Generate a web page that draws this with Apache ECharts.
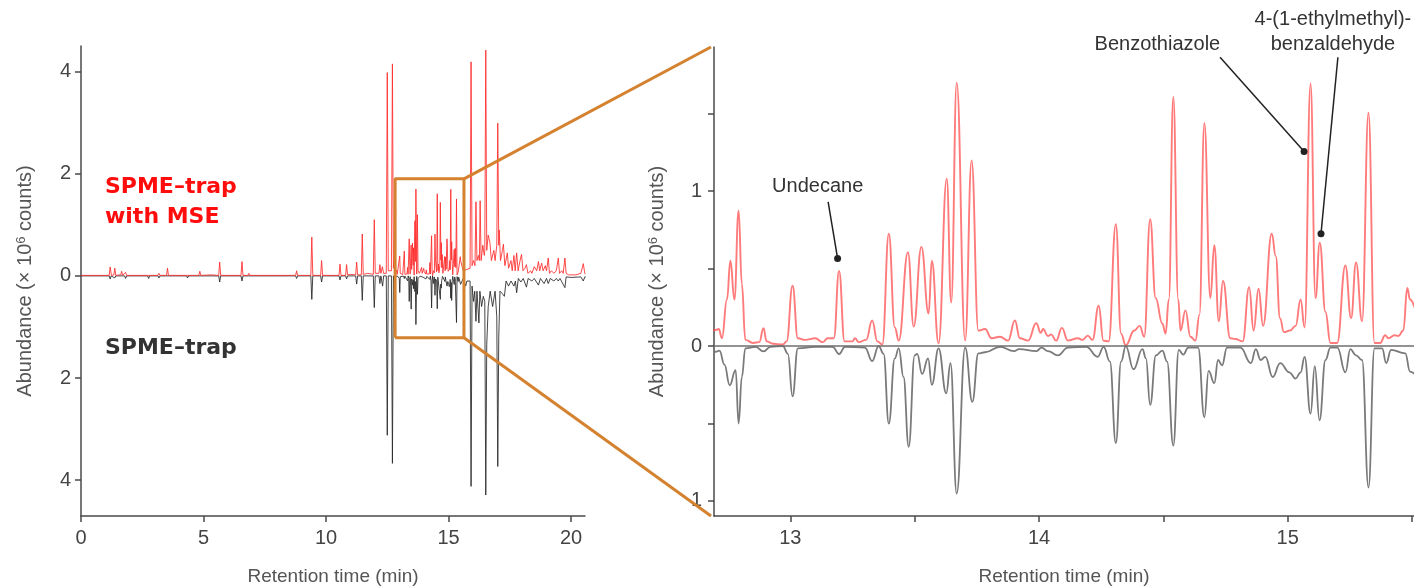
<!DOCTYPE html>
<html>
<head>
<meta charset="utf-8">
<script src="https://cdn.jsdelivr.net/npm/echarts@6/dist/echarts.min.js"></script>
<style>
html,body{margin:0;padding:0;background:#fff;}
#chart{width:1414px;height:586px;}
</style>
</head>
<body>
<div id="chart"></div>
<script>
// ---------- DATA (time in min, abundance in 10^6 counts) ----------
// Zoomed region (right panel), SPME-trap with MSE (positive)
const zoomRed = [
[12.69,0.10],[12.703,0.105],[12.712,0.11],[12.725,0.05],[12.745,0.30],[12.759,0.55],[12.775,0.30],[12.792,0.875],[12.805,0.40],[12.819,0.04],
[12.85,0.02],[12.875,0.025],[12.892,0.115],[12.905,0.03],[12.93,0.015],[12.97,0.01],[12.985,0.03],[13.009,0.39],[13.03,0.05],[13.06,0.04],
[13.1,0.05],[13.13,0.025],[13.15,0.05],[13.175,0.05],[13.196,0.485],[13.218,0.03],[13.25,0.03],[13.26,0.05],[13.275,0.025],[13.305,0.04],
[13.329,0.165],[13.35,0.03],[13.37,0.01],[13.396,0.725],[13.42,0.12],[13.436,0.035],[13.473,0.605],[13.496,0.125],[13.527,0.64],[13.556,0.21],
[13.569,0.55],[13.596,0.017],[13.629,1.08],[13.647,0.28],[13.669,1.70],[13.703,0.035],[13.729,1.197],[13.756,0.10],[13.783,0.11],[13.809,0.05],
[13.843,0.06],[13.876,0.035],[13.903,0.165],[13.923,0.05],[13.956,0.035],[13.989,0.147],[14.007,0.085],[14.016,0.11],[14.036,0.065],[14.049,0.075],
[14.069,0.035],[14.092,0.117],[14.116,0.035],[14.156,0.05],[14.175,0.04],[14.196,0.067],[14.215,0.04],[14.24,0.26],[14.259,0.035],[14.28,0.03],
[14.309,0.786],[14.33,0.08],[14.349,0.005],[14.383,0.10],[14.405,0.13],[14.423,0.06],[14.447,0.818],[14.469,0.31],[14.496,0.145],[14.509,0.08],
[14.522,0.30],[14.54,1.608],[14.56,0.30],[14.569,0.10],[14.589,0.23],[14.609,0.06],[14.629,0.035],[14.645,0.20],[14.665,1.44],[14.689,0.31],
[14.705,0.65],[14.723,0.16],[14.74,0.42],[14.769,0.05],[14.79,0.045],[14.819,0.03],[14.845,0.38],[14.863,0.10],[14.883,0.37],[14.901,0.13],
[14.936,0.725],[14.952,0.58],[14.969,0.18],[14.985,0.09],[15.009,0.10],[15.032,0.13],[15.052,0.30],[15.068,0.12],[15.092,1.695],[15.112,0.31],
[15.129,0.667],[15.152,0.22],[15.172,0.02],[15.199,0.02],[15.232,0.52],[15.255,0.18],[15.275,0.54],[15.299,0.16],[15.325,1.506],[15.349,0.02],
[15.372,0.02],[15.392,0.07],[15.405,0.05],[15.43,0.07],[15.445,0.065],[15.465,0.10],[15.481,0.375],[15.492,0.30],[15.51,0.25]
];
// Zoomed region (right panel), SPME-trap (negative)
const zoomGray = [
[12.69,-0.035],[12.70,-0.037],[12.715,-0.03],[12.735,-0.12],[12.756,-0.253],[12.78,-0.156],[12.792,-0.50],[12.805,-0.20],[12.819,-0.015],[12.86,-0.005],
[12.892,-0.035],[12.92,-0.005],[12.97,0],[12.99,-0.05],[13.009,-0.325],[13.03,-0.015],[13.10,-0.005],[13.17,-0.005],[13.196,-0.052],[13.22,-0.005],
[13.30,-0.01],[13.329,-0.097],[13.355,0],[13.375,-0.05],[13.396,-0.50],[13.42,-0.08],[13.436,-0.015],[13.455,-0.20],[13.476,-0.65],[13.50,-0.06],
[13.51,-0.05],[13.53,-0.18],[13.554,-0.08],[13.569,-0.25],[13.596,-0.015],[13.627,-0.306],[13.644,-0.11],[13.669,-0.952],[13.703,-0.01],[13.732,-0.36],
[13.756,-0.047],[13.783,-0.04],[13.843,-0.005],[13.90,-0.033],[13.92,-0.02],[13.99,-0.033],[14.01,-0.01],[14.036,-0.033],[14.076,-0.06],[14.116,-0.01],
[14.19,-0.005],[14.236,-0.07],[14.26,-0.005],[14.285,-0.10],[14.309,-0.627],[14.33,-0.10],[14.349,0],[14.38,-0.15],[14.416,-0.02],[14.43,-0.08],
[14.447,-0.38],[14.47,-0.06],[14.496,-0.03],[14.515,-0.10],[14.54,-0.643],[14.562,-0.025],[14.58,-0.055],[14.60,-0.01],[14.64,-0.01],[14.665,-0.46],
[14.682,-0.16],[14.705,-0.24],[14.72,-0.09],[14.736,-0.125],[14.756,-0.01],[14.81,-0.01],[14.852,-0.11],[14.872,-0.02],[14.891,-0.09],[14.91,-0.07],
[14.94,-0.20],[14.97,-0.11],[15.007,-0.17],[15.032,-0.21],[15.052,-0.17],[15.068,-0.07],[15.092,-0.437],[15.109,-0.13],[15.128,-0.48],[15.152,-0.09],
[15.172,-0.01],[15.20,-0.01],[15.232,-0.17],[15.252,-0.02],[15.275,-0.06],[15.299,-0.09],[15.325,-0.913],[15.349,-0.015],[15.38,-0.015],[15.396,-0.11],
[15.416,-0.025],[15.473,-0.047],[15.492,-0.165],[15.51,-0.18]
];
// Full run (left panel), before the zoomed window
const leftRedPre = [
[0,0.01],[1.15,0.01],[1.19,0.175],[1.24,0.01],[1.34,0.02],[1.38,0.15],[1.42,0.01],[1.62,0.02],[1.66,0.09],[1.70,0.01],[1.78,0.01],[1.82,0.07],[1.86,0.01],
[2.72,0.01],[2.76,0.04],[2.80,0.01],[3.14,0.01],[3.18,0.05],[3.22,0.01],[3.49,0.01],[3.53,0.15],[3.57,0.01],[4.31,0.01],[4.35,0.04],[4.39,0.01],
[4.81,0.01],[4.85,0.09],[4.89,0.01],[5.30,0.02],[5.34,0.04],[5.38,0.01],[5.62,0.01],[5.66,0.27],[5.70,0.01],[6.53,0.01],[6.57,0.28],[6.61,0.01],
[6.81,0.01],[6.85,0.05],[6.89,0.01],[7.74,0.01],[7.78,0.04],[7.82,0.01],[8.76,0.01],[8.80,0.10],[8.84,0.01],[9.38,0.01],[9.42,0.76],[9.46,0.01],
[9.78,0.01],[9.82,0.30],[9.86,0.01],[10.53,0.01],[10.57,0.23],[10.61,0.01],[10.80,0.01],[10.84,0.22],[10.88,0.02],[11.0,0.03],[11.21,0.02],[11.25,0.27],
[11.29,0.02],[11.44,0.02],[11.48,0.82],[11.52,0.03],[11.70,0.05],[11.93,0.03],[11.97,1.10],[12.01,0.05],[12.16,0.05],[12.20,0.22],[12.24,0.05],[12.30,0.18],
[12.35,0.05],[12.46,0.05],[12.50,3.98],[12.54,0.10],[12.67,0.10],[12.71,4.15],[12.75,0.15]
];
const leftBlackPre = [
[0,0],[1.15,0],[1.19,-0.06],[1.23,0],[1.38,-0.04],[1.42,0],[1.78,0],[1.82,-0.05],[1.86,0],[2.72,0],[2.76,-0.05],[2.80,0],[3.14,0],[3.18,-0.04],[3.22,0],
[4.31,0],[4.35,-0.04],[4.39,0],[5.62,0],[5.66,-0.12],[5.70,0],[6.53,0],[6.57,-0.10],[6.61,0],[8.76,0],[8.80,-0.05],[8.84,0],[9.38,0],[9.42,-0.46],[9.46,0],
[9.78,0],[9.82,-0.12],[9.86,0],[10.53,0],[10.57,-0.08],[10.61,0],[10.80,0],[10.84,-0.06],[10.88,0],[11.21,0],[11.25,-0.16],[11.29,0],[11.44,0],[11.48,-0.48],
[11.52,0],[11.93,0],[11.97,-0.62],[12.01,0],[12.16,0],[12.20,-0.15],[12.24,0],[12.31,-0.20],[12.35,0],[12.46,0],[12.50,-3.12],[12.54,0],[12.67,0],
[12.71,-3.67],[12.75,0]
];
// Full run (left panel), after the zoomed window
const leftRedPost = [
[15.60,0.10],[15.88,0.15],[15.92,4.19],[15.96,0.20],[16.02,0.30],[16.08,0.20],[16.12,1.45],[16.16,0.30],[16.22,0.40],[16.26,0.30],[16.29,1.47],[16.33,0.30],
[16.40,0.60],[16.46,0.40],[16.48,0.50],[16.52,4.42],[16.56,0.50],[16.62,0.80],[16.69,0.65],[16.75,0.30],[16.85,0.50],[16.90,0.30],[16.97,0.60],[17.01,2.99],
[17.05,0.60],[17.07,0.90],[17.12,0.30],[17.20,0.50],[17.24,0.62],[17.30,0.20],[17.40,0.45],[17.45,0.15],[17.55,0.30],[17.60,0.10],[17.67,0.40],[17.72,0.10],
[17.78,0.45],[17.84,0.10],[17.92,0.30],[17.98,0.42],[18.04,0.10],[18.12,0.15],[18.18,0.22],[18.24,0.05],[18.35,0.10],[18.40,0.05],[18.50,0.18],[18.55,0.20],
[18.60,0.10],[18.67,0.28],[18.72,0.10],[18.80,0.25],[18.86,0.10],[18.95,0.20],[19.00,0.10],[19.07,0.35],[19.12,0.05],[19.20,0.10],[19.30,0.05],[19.40,0.10],
[19.48,0.35],[19.53,0.05],[19.62,0.10],[19.68,0.05],[19.75,0.35],[19.80,0.05],[19.90,0.02],[20.20,0.02],[20.40,0.05],[20.50,0.24],[20.56,0.05],[20.60,0.03]
];
const leftBlackPost = [
[15.60,-0.05],[15.70,-0.20],[15.75,-0.10],[15.88,-0.10],[15.92,-4.12],[15.96,-0.20],[16.02,-0.50],[16.07,-0.30],[16.12,-0.89],[16.16,-0.30],[16.24,-0.92],
[16.28,-0.30],[16.35,-0.60],[16.42,-0.40],[16.48,-0.50],[16.52,-4.29],[16.56,-1.35],[16.62,-0.60],[16.70,-0.30],[16.80,-0.60],[16.90,-0.30],[16.97,-0.80],
[17.01,-3.73],[17.05,-1.20],[17.10,-0.30],[17.20,-0.35],[17.28,-0.40],[17.35,-0.10],[17.45,-0.20],[17.55,-0.10],[17.67,-0.20],[17.73,-0.10],[17.78,-0.33],
[17.85,-0.05],[17.95,-0.12],[18.05,-0.05],[18.18,-0.22],[18.25,-0.05],[18.40,-0.10],[18.50,-0.05],[18.67,-0.18],[18.75,-0.05],[18.90,-0.15],[19.00,-0.05],
[19.07,-0.15],[19.15,-0.05],[19.30,-0.10],[19.40,-0.05],[19.48,-0.10],[19.55,-0.05],[19.75,-0.23],[19.80,-0.02],[20.00,-0.03],[20.40,-0.02],[20.50,-0.10],
[20.56,-0.02],[20.60,-0.02]
];
// Zoom window drawn on the left panel
const boxX = [12.82, 15.63];
const boxY = [-1.21, 1.90];
// Axis ticks / labels
const leftXTicks = [0, 5, 10, 15, 20];
const leftYTicks = [-4, -2, 0, 2, 4];
const rightXTicks = [13, 13.5, 14, 14.5, 15, 15.5];
const rightXLabels = [13, 14, 15];
const rightYTicks = [-1, -0.5, 0, 0.5, 1, 1.5];
const rightYLabels = [-1, 0, 1];
// Peak annotations (right panel): dot on peak, leader start, label centre
const annotations = [
  {text: 'Undecane', dot: [13.19, 0.565], from: [13.152, 0.93], label: [13.11, 1.03]},
  {text: 'Benzothiazole', dot: [15.066, 1.256], from: [14.728, 1.864], label: [14.476, 1.948]},
  {text: '4-(1-ethylmethyl)-\nbenzaldehyde', dot: [15.134, 0.725], from: [15.202, 1.864], label: [15.182, 2.029]}
];

// ---------- CHART ----------
const FONT = 'Liberation Sans, Arial, sans-serif';
const AX = '#4a4a4a';
const ORANGE = '#d4822f';
const leftRed = leftRedPre.concat(zoomRed.filter(p => p[0] > 12.76 && p[0] < 15.5), leftRedPost);
const leftBlack = leftBlackPre.concat(zoomGray.filter(p => p[0] > 12.76 && p[0] < 15.5), leftBlackPost);
const boxPath = [[boxX[0], boxY[0]], [boxX[1], boxY[0]], [boxX[1], boxY[1]], [boxX[0], boxY[1]], [boxX[0], boxY[0]]];

const axisCommon = {
  axisLine: {show: true, onZero: false, lineStyle: {color: AX, width: 1.5}},
  axisTick: {show: true, length: 6, lineStyle: {color: AX, width: 1.5}},
  splitLine: {show: false},
  axisLabel: {color: '#444', fontSize: 20, fontFamily: FONT},
  nameTextStyle: {color: '#555', fontSize: 19, fontFamily: FONT}
};
const yName = 'Abundance (× 10{s|6} counts)';
const yNameStyle = {color: '#555', fontSize: 20, fontFamily: FONT, rich: {s: {fontSize: 13, verticalAlign: 'top', color: '#555', fontFamily: FONT, padding: [0, 0, 8, 0]}}};

const chart = echarts.init(document.getElementById('chart'), null, {renderer: 'canvas'});
chart.setOption({
  animation: false,
  backgroundColor: '#fff',
  grid: [
    {left: 81, top: 46, width: 504, height: 470, outerBoundsMode: 'none', containLabel: false},
    {left: 714, top: 47, width: 700, height: 469, outerBoundsMode: 'none', containLabel: false}
  ],
  xAxis: [
    Object.assign({}, axisCommon, {gridIndex: 0, type: 'value', min: 0, max: 20.57,
      axisTick: Object.assign({}, axisCommon.axisTick, {customValues: leftXTicks}),
      axisLabel: Object.assign({}, axisCommon.axisLabel, {customValues: leftXTicks, margin: 12}),
      name: 'Retention time (min)', nameLocation: 'middle', nameGap: 51}),
    Object.assign({}, axisCommon, {gridIndex: 1, type: 'value', min: 12.693, max: 15.508,
      axisTick: Object.assign({}, axisCommon.axisTick, {customValues: rightXTicks}),
      axisLabel: Object.assign({}, axisCommon.axisLabel, {customValues: rightXLabels, margin: 12}),
      name: 'Retention time (min)', nameLocation: 'middle', nameGap: 51})
  ],
  yAxis: [
    Object.assign({}, axisCommon, {gridIndex: 0, type: 'value', min: -4.7, max: 4.5,
      axisTick: Object.assign({}, axisCommon.axisTick, {customValues: leftYTicks}),
      axisLabel: Object.assign({}, axisCommon.axisLabel, {customValues: leftYTicks, margin: 10, formatter: v => String(Math.abs(v))}),
      name: yName, nameLocation: 'middle', nameGap: 45, nameRotate: 90, nameTextStyle: yNameStyle}),
    Object.assign({}, axisCommon, {gridIndex: 1, type: 'value', min: -1.097, max: 1.93,
      axisTick: Object.assign({}, axisCommon.axisTick, {customValues: rightYTicks}),
      axisLabel: Object.assign({}, axisCommon.axisLabel, {customValues: rightYLabels, margin: 12, formatter: v => String(Math.abs(v))}),
      name: yName, nameLocation: 'middle', nameGap: 46, nameRotate: 90, nameTextStyle: yNameStyle})
  ],
  series: [
    {type: 'line', xAxisIndex: 0, yAxisIndex: 0, data: leftBlack, showSymbol: false, silent: true,
      lineStyle: {color: '#262626', width: 1, opacity: 0.85}},
    {type: 'line', xAxisIndex: 0, yAxisIndex: 0, data: leftRed, showSymbol: false, silent: true,
      lineStyle: {color: '#ff2a2a', width: 1, opacity: 0.85}},
    {type: 'line', xAxisIndex: 0, yAxisIndex: 0, data: boxPath, showSymbol: false, silent: true, clip: false,
      lineStyle: {color: ORANGE, width: 3}},
    {type: 'line', xAxisIndex: 1, yAxisIndex: 1, data: zoomGray, showSymbol: false, silent: true, smooth: 0.45, smoothMonotone: 'x',
      lineStyle: {color: '#7a7a7a', width: 1.8},
      markLine: {silent: true, symbol: 'none', label: {show: false}, lineStyle: {color: '#6e6e6e', width: 1.5, type: 'solid'}, data: [{yAxis: 0}]}},
    {type: 'line', xAxisIndex: 1, yAxisIndex: 1, data: zoomRed, showSymbol: false, silent: true, smooth: 0.45, smoothMonotone: 'x',
      lineStyle: {color: 'rgba(255,70,70,0.72)', width: 1.9}}
  ]
});

function px(grid, p) { return chart.convertToPixel({gridIndex: grid}, p); }
const g = [];
// connector lines from zoom box to right panel
const rTop = px(1, [12.693, 1.93]);
const rBot = px(1, [12.693, -1.097]);
const bTop = px(0, [boxX[1], boxY[1]]);
const bBot = px(0, [boxX[1], boxY[0]]);
g.push({type: 'line', shape: {x1: bTop[0], y1: bTop[1], x2: rTop[0] - 3, y2: rTop[1]}, style: {stroke: ORANGE, lineWidth: 3}, z: 100});
g.push({type: 'line', shape: {x1: bBot[0], y1: bBot[1], x2: rBot[0] - 3, y2: rBot[1]}, style: {stroke: ORANGE, lineWidth: 3}, z: 100});
// sample labels
g.push({type: 'text', left: 105, top: 172, style: {text: 'SPME–trap\nwith MSE', fill: '#ff0d0d', font: 'bold 22px DejaVu Sans, sans-serif', lineHeight: 30}, z: 100});
g.push({type: 'text', left: 105, top: 333, style: {text: 'SPME–trap', fill: '#333', font: 'bold 22px DejaVu Sans, sans-serif', lineHeight: 30}, z: 100});
// annotations
annotations.forEach(a => {
  const d = px(1, a.dot), f = px(1, a.from), l = px(1, a.label);
  g.push({type: 'line', shape: {x1: f[0], y1: f[1], x2: d[0], y2: d[1]}, style: {stroke: '#222', lineWidth: 1.5}, z: 100});
  g.push({type: 'circle', shape: {cx: d[0], cy: d[1], r: 3.5}, style: {fill: '#222'}, z: 101});
  g.push({type: 'text', x: l[0], y: l[1], style: {text: a.text, fill: '#333', font: '20px ' + FONT, align: 'center', verticalAlign: 'middle', lineHeight: 25}, z: 100});
});
chart.setOption({graphic: g});
</script>
</body>
</html>
